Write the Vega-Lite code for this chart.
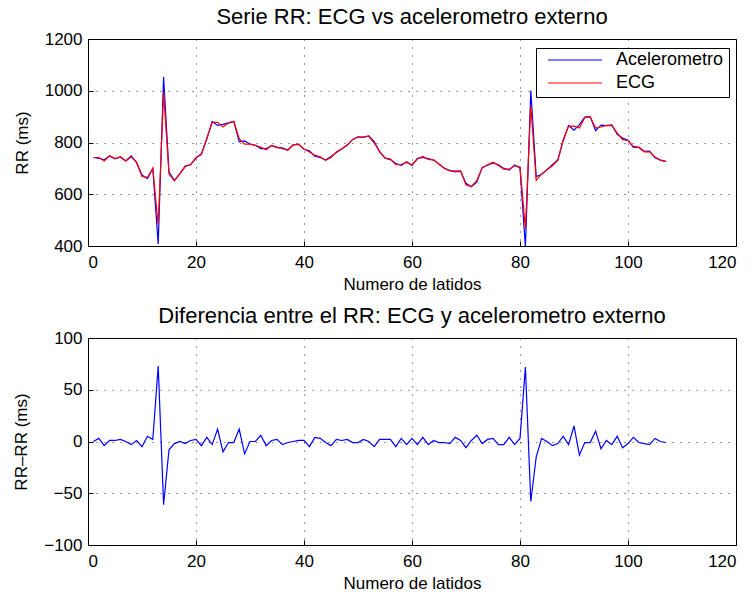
{
  "$schema": "https://vega.github.io/schema/vega-lite/v6.json",
  "background": "white",
  "padding": {"left": 12, "top": 5, "right": 16, "bottom": 2},
  "spacing": 11,
  "config": {
    "font": "Liberation Sans",
    "view": {"stroke": "black", "strokeWidth": 1},
    "axis": {
      "domainColor": "black", "domainWidth": 1,
      "gridColor": "#000000", "gridDash": [1, 7], "gridOpacity": 0.8, "gridWidth": 1,
      "tickColor": "black", "tickSize": -5, "ticks": true,
      "labelFont": "Liberation Sans", "labelFontSize": 17, "labelColor": "black",
      "titleFont": "Liberation Sans", "titleFontSize": 17, "titleFontWeight": "normal", "titleColor": "black"
    },
    "axisX": {"labelPadding": 13, "titlePadding": 6},
    "axisY": {"labelPadding": 11, "titlePadding": 13},
    "title": {"font": "Liberation Sans", "fontSize": 22, "fontWeight": "normal", "color": "black", "baseline": "alphabetic", "offset": 1.3},
    "line": {"strokeWidth": 1.2}
  },
  "datasets": {
    "latidos": [
      {"n":1,"Acelerometro":742,"ECG":742},{"n":2,"Acelerometro":739,"ECG":742},{"n":3,"Acelerometro":733,"ECG":729},{"n":4,"Acelerometro":748,"ECG":749},{"n":5,"Acelerometro":737,"ECG":738},
      {"n":6,"Acelerometro":743,"ECG":745},{"n":7,"Acelerometro":729,"ECG":729},{"n":8,"Acelerometro":748,"ECG":745},{"n":9,"Acelerometro":722,"ECG":723},{"n":10,"Acelerometro":674,"ECG":669},
      {"n":11,"Acelerometro":660,"ECG":665},{"n":12,"Acelerometro":699,"ECG":701},{"n":13,"Acelerometro":408,"ECG":481},{"n":14,"Acelerometro":1053,"ECG":992},{"n":15,"Acelerometro":686,"ECG":678},
      {"n":16,"Acelerometro":654,"ECG":652},{"n":17,"Acelerometro":679,"ECG":679},{"n":18,"Acelerometro":709,"ECG":707},{"n":19,"Acelerometro":714,"ECG":715},{"n":20,"Acelerometro":740,"ECG":742},
      {"n":21,"Acelerometro":757,"ECG":753},{"n":22,"Acelerometro":813,"ECG":817},{"n":23,"Acelerometro":881,"ECG":878},{"n":24,"Acelerometro":866,"ECG":878},{"n":25,"Acelerometro":870,"ECG":860},
      {"n":26,"Acelerometro":876,"ECG":875},{"n":27,"Acelerometro":882,"ECG":881},{"n":28,"Acelerometro":803,"ECG":815},{"n":29,"Acelerometro":806,"ECG":794},{"n":30,"Acelerometro":794,"ECG":794},
      {"n":31,"Acelerometro":789,"ECG":789},{"n":32,"Acelerometro":776,"ECG":782},{"n":33,"Acelerometro":776,"ECG":772},{"n":34,"Acelerometro":788,"ECG":789},{"n":35,"Acelerometro":780,"ECG":782},
      {"n":36,"Acelerometro":779,"ECG":776},{"n":37,"Acelerometro":771,"ECG":770},{"n":38,"Acelerometro":791,"ECG":791},{"n":39,"Acelerometro":793,"ECG":794},{"n":40,"Acelerometro":774,"ECG":775},
      {"n":41,"Acelerometro":768,"ECG":763},{"n":42,"Acelerometro":747,"ECG":751},{"n":43,"Acelerometro":742,"ECG":745},{"n":44,"Acelerometro":732,"ECG":731},{"n":45,"Acelerometro":746,"ECG":742},
      {"n":46,"Acelerometro":761,"ECG":763},{"n":47,"Acelerometro":775,"ECG":776},{"n":48,"Acelerometro":789,"ECG":791},{"n":49,"Acelerometro":812,"ECG":811},{"n":50,"Acelerometro":822,"ECG":821},
      {"n":51,"Acelerometro":820,"ECG":822},{"n":52,"Acelerometro":825,"ECG":825},{"n":53,"Acelerometro":803,"ECG":798},{"n":54,"Acelerometro":764,"ECG":766},{"n":55,"Acelerometro":739,"ECG":741},
      {"n":56,"Acelerometro":734,"ECG":736},{"n":57,"Acelerometro":719,"ECG":714},{"n":58,"Acelerometro":712,"ECG":715},{"n":59,"Acelerometro":726,"ECG":723},{"n":60,"Acelerometro":711,"ECG":714},
      {"n":61,"Acelerometro":739,"ECG":736},{"n":62,"Acelerometro":742,"ECG":746},{"n":63,"Acelerometro":738,"ECG":735},{"n":64,"Acelerometro":732,"ECG":733},{"n":65,"Acelerometro":717,"ECG":716},
      {"n":66,"Acelerometro":701,"ECG":700},{"n":67,"Acelerometro":692,"ECG":690},{"n":68,"Acelerometro":686,"ECG":690},{"n":69,"Acelerometro":689,"ECG":690},{"n":70,"Acelerometro":642,"ECG":636},
      {"n":71,"Acelerometro":629,"ECG":630},{"n":72,"Acelerometro":647,"ECG":653},{"n":73,"Acelerometro":704,"ECG":702},{"n":74,"Acelerometro":712,"ECG":714},{"n":75,"Acelerometro":721,"ECG":724},
      {"n":76,"Acelerometro":714,"ECG":711},{"n":77,"Acelerometro":700,"ECG":697},{"n":78,"Acelerometro":693,"ECG":697},{"n":79,"Acelerometro":713,"ECG":710},{"n":80,"Acelerometro":702,"ECG":705},
      {"n":81,"Acelerometro":396,"ECG":468},{"n":82,"Acelerometro":1001,"ECG":943},{"n":83,"Acelerometro":668,"ECG":653},{"n":84,"Acelerometro":676,"ECG":679},{"n":85,"Acelerometro":695,"ECG":695},
      {"n":86,"Acelerometro":714,"ECG":710},{"n":87,"Acelerometro":733,"ECG":731},{"n":88,"Acelerometro":806,"ECG":811},{"n":89,"Acelerometro":866,"ECG":863},{"n":90,"Acelerometro":848,"ECG":863},
      {"n":91,"Acelerometro":869,"ECG":856},{"n":92,"Acelerometro":898,"ECG":897},{"n":93,"Acelerometro":900,"ECG":899},{"n":94,"Acelerometro":846,"ECG":856},{"n":95,"Acelerometro":867,"ECG":860},
      {"n":96,"Acelerometro":865,"ECG":866},{"n":97,"Acelerometro":868,"ECG":865},{"n":98,"Acelerometro":832,"ECG":837},{"n":99,"Acelerometro":817,"ECG":811},{"n":100,"Acelerometro":809,"ECG":807},
      {"n":101,"Acelerometro":781,"ECG":785},{"n":102,"Acelerometro":782,"ECG":781},{"n":103,"Acelerometro":766,"ECG":764},{"n":104,"Acelerometro":767,"ECG":764},{"n":105,"Acelerometro":741,"ECG":744},
      {"n":106,"Acelerometro":732,"ECG":732},{"n":107,"Acelerometro":727,"ECG":726}
    ],
    "diferencias": [
      {"n":1,"d":0},{"n":2,"d":3},{"n":3,"d":-4},{"n":4,"d":1},{"n":5,"d":1},{"n":6,"d":2},{"n":7,"d":0},{"n":8,"d":-3},{"n":9,"d":1},{"n":10,"d":-5},
      {"n":11,"d":5},{"n":12,"d":2},{"n":13,"d":73},{"n":14,"d":-61},{"n":15,"d":-8},{"n":16,"d":-2},{"n":17,"d":0},{"n":18,"d":-2},{"n":19,"d":1},{"n":20,"d":2},
      {"n":21,"d":-4},{"n":22,"d":4},{"n":23,"d":-3},{"n":24,"d":12},{"n":25,"d":-10},{"n":26,"d":-1},{"n":27,"d":-1},{"n":28,"d":12},{"n":29,"d":-12},{"n":30,"d":0},
      {"n":31,"d":0},{"n":32,"d":6},{"n":33,"d":-4},{"n":34,"d":1},{"n":35,"d":2},{"n":36,"d":-3},{"n":37,"d":-1},{"n":38,"d":0},{"n":39,"d":1},{"n":40,"d":1},
      {"n":41,"d":-5},{"n":42,"d":4},{"n":43,"d":3},{"n":44,"d":-1},{"n":45,"d":-4},{"n":46,"d":2},{"n":47,"d":1},{"n":48,"d":2},{"n":49,"d":-1},{"n":50,"d":-1},
      {"n":51,"d":2},{"n":52,"d":0},{"n":53,"d":-5},{"n":54,"d":2},{"n":55,"d":2},{"n":56,"d":2},{"n":57,"d":-5},{"n":58,"d":3},{"n":59,"d":-3},{"n":60,"d":3},
      {"n":61,"d":-3},{"n":62,"d":4},{"n":63,"d":-3},{"n":64,"d":1},{"n":65,"d":-1},{"n":66,"d":-1},{"n":67,"d":-2},{"n":68,"d":4},{"n":69,"d":1},{"n":70,"d":-6},
      {"n":71,"d":1},{"n":72,"d":6},{"n":73,"d":-2},{"n":74,"d":2},{"n":75,"d":3},{"n":76,"d":-3},{"n":77,"d":-3},{"n":78,"d":4},{"n":79,"d":-3},{"n":80,"d":3},
      {"n":81,"d":72},{"n":82,"d":-58},{"n":83,"d":-15},{"n":84,"d":3},{"n":85,"d":0},{"n":86,"d":-4},{"n":87,"d":-2},{"n":88,"d":5},{"n":89,"d":-3},{"n":90,"d":15},
      {"n":91,"d":-13},{"n":92,"d":-1},{"n":93,"d":-1},{"n":94,"d":10},{"n":95,"d":-7},{"n":96,"d":1},{"n":97,"d":-3},{"n":98,"d":5},{"n":99,"d":-6},{"n":100,"d":-2},
      {"n":101,"d":4},{"n":102,"d":-1},{"n":103,"d":-2},{"n":104,"d":-3},{"n":105,"d":3},{"n":106,"d":0},{"n":107,"d":-1}
    ]
  },
  "resolve": {"scale": {"x": "independent", "y": "independent", "color": "independent"}},
  "vconcat": [
    {
      "width": 648,
      "height": 207,
      "title": "Serie RR: ECG vs acelerometro externo",
      "data": {"name": "latidos"},
      "transform": [{"fold": ["Acelerometro", "ECG"], "as": ["serie", "rr"]}],
      "mark": {"type": "line", "clip": true, "strokeWidth": 1.2},
      "encoding": {
        "x": {"field": "n", "type": "quantitative", "scale": {"domain": [0, 120], "nice": false},
              "axis": {"values": [0, 20, 40, 60, 80, 100, 120], "format": "d", "title": "Numero de latidos"}},
        "y": {"field": "rr", "type": "quantitative", "scale": {"domain": [400, 1200], "nice": false, "zero": false},
              "axis": {"values": [400, 600, 800, 1000, 1200], "format": "d", "title": "RR (ms)"}},
        "color": {"field": "serie", "type": "nominal",
                  "scale": {"domain": ["Acelerometro", "ECG"], "range": ["#0000ff", "#ff0000"]},
                  "legend": {"orient": "none", "legendX": 448, "legendY": 9, "title": null, "direction": "vertical",
                             "symbolType": "stroke", "symbolSize": 2916, "symbolStrokeWidth": 1.2,
                             "clipHeight": 14, "rowPadding": 5, "padding": 5, "symbolOffset": 6, "labelOffset": 13,
                             "labelFontSize": 18, "labelFont": "Liberation Sans", "labelColor": "black",
                             "strokeColor": "black", "fillColor": "white"}}
      }
    },
    {
      "width": 648,
      "height": 207,
      "title": "Diferencia entre el RR: ECG y acelerometro externo",
      "data": {"name": "diferencias"},
      "mark": {"type": "line", "clip": true, "color": "#0000ff", "strokeWidth": 1.2},
      "encoding": {
        "x": {"field": "n", "type": "quantitative", "scale": {"domain": [0, 120], "nice": false},
              "axis": {"values": [0, 20, 40, 60, 80, 100, 120], "format": "d", "title": "Numero de latidos"}},
        "y": {"field": "d", "type": "quantitative", "scale": {"domain": [-100, 100], "nice": false},
              "axis": {"values": [-100, -50, 0, 50, 100], "format": "d", "title": "RR–RR (ms)"}}
      }
    }
  ]
}
